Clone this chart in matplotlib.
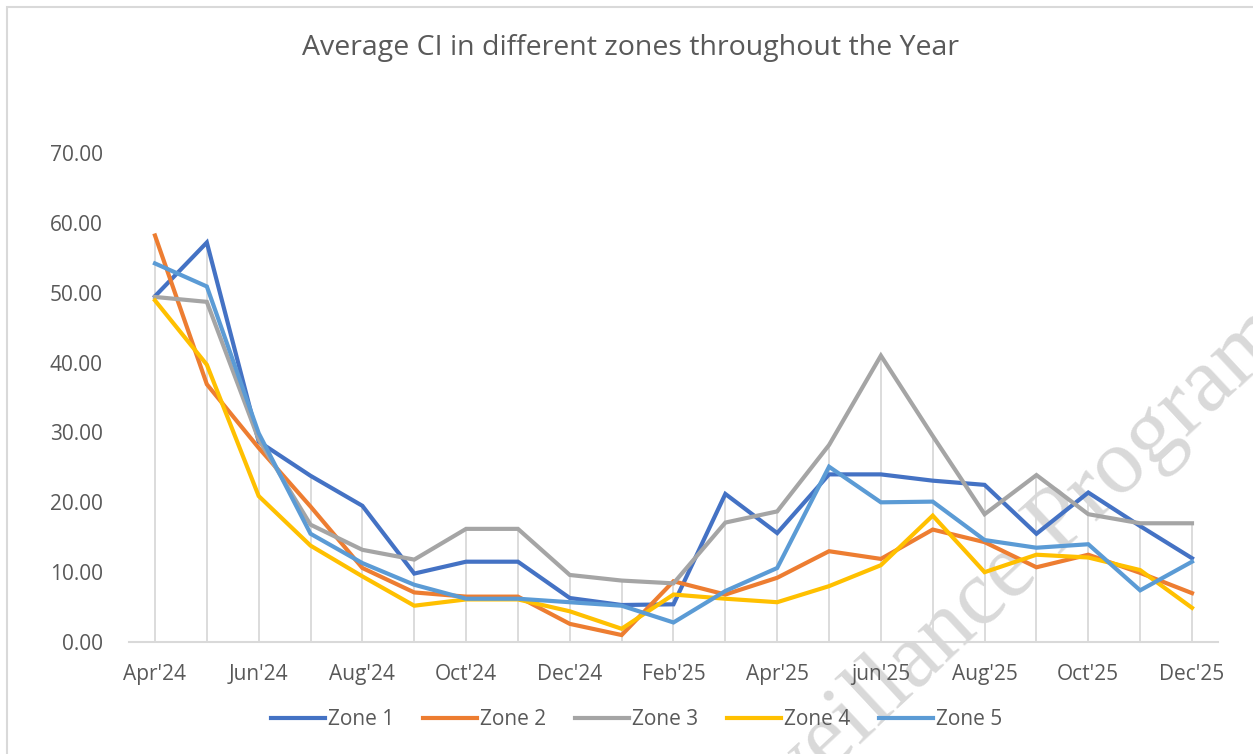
import matplotlib.pyplot as plt
import matplotlib.patches as mpatches
import numpy as np

# month labels (every month is a category, only every other one labelled)
months = ["Apr'24", "May'24", "Jun'24", "Jul'24", "Aug'24", "Sep'24", "Oct'24",
          "Nov'24", "Dec'24", "Jan'25", "Feb'25", "Mar'25", "Apr'25", "May'25",
          "jun'25", "Jul'25", "Aug'25", "Sep'25", "Oct'25", "Nov'25", "Dec'25"]

zone1 = [49.5, 57.2, 28.7, 23.8, 19.5, 9.8, 11.5, 11.5, 6.3, 5.3, 5.4,
         21.2, 15.6, 24.0, 24.0, 23.1, 22.5, 15.5, 21.4, 16.6, 12.0]
zone2 = [58.2, 36.9, 27.8, 19.4, 10.6, 7.1, 6.5, 6.5, 2.6, 1.0, 8.7,
         6.8, 9.2, 13.0, 11.9, 16.1, 14.3, 10.7, 12.5, 9.9, 7.0]
zone3 = [49.4, 48.7, 29.0, 16.8, 13.2, 11.8, 16.2, 16.2, 9.6, 8.8, 8.4,
         17.1, 18.7, 28.2, 41.0, 29.5, 18.3, 23.9, 18.3, 17.0, 17.0]
zone4 = [48.9, 39.7, 20.9, 13.8, 9.4, 5.2, 6.1, 6.1, 4.4, 1.9, 6.8,
         6.2, 5.7, 8.0, 11.0, 18.1, 10.0, 12.5, 12.1, 10.3, 4.9]
zone5 = [54.2, 50.9, 29.9, 15.5, 11.3, 8.2, 6.2, 6.2, 5.7, 5.2, 2.8,
         7.3, 10.6, 25.1, 20.0, 20.1, 14.6, 13.5, 14.0, 7.4, 11.5]

series = {"Zone 1": zone1, "Zone 2": zone2, "Zone 3": zone3,
          "Zone 4": zone4, "Zone 5": zone5}
colors = ["#4472C4", "#ED7D31", "#A5A5A5", "#FFC000", "#5B9BD5"]

plt.rcParams['font.family'] = ['Open Sans', 'DejaVu Sans']
text_col = "#595959"

fig = plt.figure(figsize=(12.53, 7.54), dpi=100)
ax = fig.add_axes([0.103, 0.1485, 0.869, 0.6485])
ax.patch.set_visible(False)  # let the watermark show through

x = np.arange(len(months))

# drop lines from the highest point down to the axis
tops = np.max(np.array(list(series.values())), axis=0)
ax.vlines(x, 0, tops, color="#d9d9d9", lw=1.3, zorder=1)

for (name, vals), c in zip(series.items(), colors):
    ax.plot(x, vals, color=c, lw=3, label=name, zorder=3,
            solid_joinstyle="miter")

ax.set_xlim(-0.5, len(months) - 0.5)
ax.set_ylim(0, 70)
ax.set_yticks(np.arange(0, 71, 10))
ax.set_yticklabels([f"{v:.2f}" for v in np.arange(0, 71, 10)])
ax.set_xticks(x[::2])
ax.set_xticklabels(months[::2])
ax.tick_params(axis="both", length=0, labelsize=15, colors=text_col)
ax.tick_params(axis="y", pad=19)
ax.tick_params(axis="x", pad=16)

for s in ["top", "right", "left"]:
    ax.spines[s].set_visible(False)
ax.spines["bottom"].set_color("#d9d9d9")
ax.spines["bottom"].set_linewidth(1.5)

fig.text(0.503, 0.937, "Average CI in different zones throughout the Year",
         ha="center", va="center", fontsize=20.5, color=text_col)

leg = fig.legend(loc="center", bbox_to_anchor=(0.508, 0.046), ncol=5,
                 frameon=False, fontsize=15, handlelength=2.6,
                 handletextpad=0.15, columnspacing=1.37, labelcolor=text_col)

# chart border
fig.patches.append(mpatches.Rectangle((0.0056, -0.2), 1.2, 0.2 + 0.9907,
                                      transform=fig.transFigure, fill=False,
                                      edgecolor="#d9d9d9", lw=1.5))

# watermark, behind everything
wm = dict(rotation=43, rotation_mode="anchor", va="baseline", fontsize=67,
          family="Liberation Serif", color="#d9d9d9", zorder=-1)
fig.text(0.8436, 0.264, "Programme", ha="left", **wm)
fig.text(0.829, 0.243, "Surveillance", ha="right", **wm)

fig.savefig("out.png", dpi=100)
